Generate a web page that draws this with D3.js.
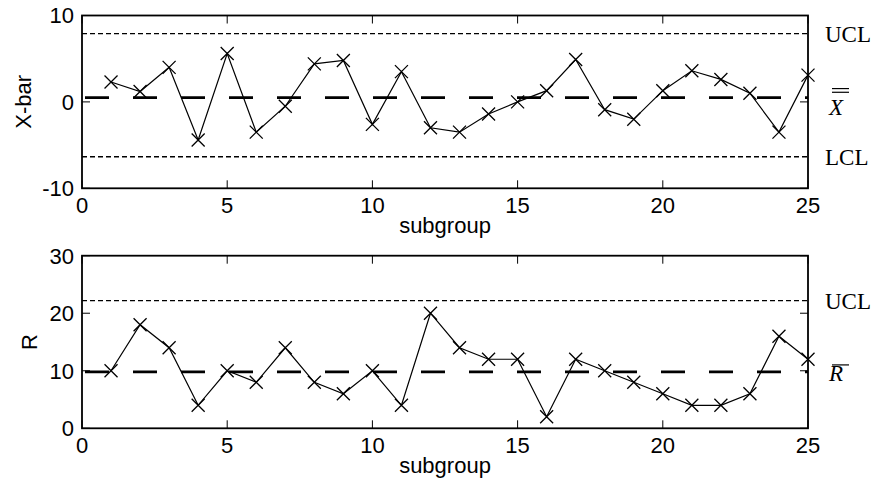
<!DOCTYPE html>
<html>
<head>
<meta charset="utf-8">
<script src="https://cdn.jsdelivr.net/npm/d3@7"></script>
<style>
  body { margin: 0; background: #fff; }
  svg { display: block; }
</style>
</head>
<body>
<div id="chart"></div>
<script>
// subgroup numbers 1..25
const subgroups = [1, 2, 3, 4, 5, 6, 7, 8, 9, 10, 11, 12, 13, 14, 15, 16, 17, 18, 19, 20, 21, 22, 23, 24, 25];

// subgroup means (X-bar chart)
const xbarValues = [2.3, 1.2, 4.0, -4.4, 5.6, -3.5, -0.5, 4.4, 4.8, -2.6, 3.5, -3.0, -3.5, -1.4, 0.0, 1.3, 4.9, -0.9, -2.0, 1.3, 3.6, 2.6, 1.0, -3.5, 3.1];
// subgroup ranges (R chart)
const rValues = [10, 18, 14, 4, 10, 8, 14, 8, 6, 10, 4, 20, 14, 12, 12, 2, 12, 10, 8, 6, 4, 4, 6, 16, 12];

// control limits
const xbarLimits = { ucl: 7.9, cl: 0.5, lcl: -6.35 };
const rLimits = { ucl: 22.2, cl: 9.8 };

const xTicks = [0, 5, 10, 15, 20, 25];
const xbarTicks = [-10, 0, 10];
const rTicks = [0, 10, 20, 30];

const W = 877, H = 484;
const svg = d3.select("#chart").append("svg")
    .attr("width", W)
    .attr("height", H);

const sansFont = "'Liberation Sans', Arial, sans-serif";
const serifFont = "'Liberation Serif', 'Times New Roman', serif";

function drawPanel(opt) {
    const x = d3.scaleLinear().domain([0, 25]).range([82, 808]);
    const y = d3.scaleLinear().domain(opt.yDomain).range([opt.bottom, opt.top]);
    const g = svg.append("g");

    // x ticks inward, top and bottom
    xTicks.forEach(t => {
        g.append("line").attr("x1", x(t)).attr("x2", x(t))
            .attr("y1", opt.top).attr("y2", opt.top + 8)
            .attr("stroke", "#000").attr("stroke-width", 1);
        g.append("line").attr("x1", x(t)).attr("x2", x(t))
            .attr("y1", opt.bottom).attr("y2", opt.bottom - 8)
            .attr("stroke", "#000").attr("stroke-width", 1);
        g.append("text")
            .attr("x", x(t)).attr("y", opt.bottom + 25)
            .attr("text-anchor", "middle")
            .attr("font-family", sansFont).attr("font-size", 22)
            .text(t);
    });

    // y ticks inward, left and right
    opt.yTicks.forEach(t => {
        g.append("line").attr("x1", 82).attr("x2", 90)
            .attr("y1", y(t)).attr("y2", y(t))
            .attr("stroke", "#000").attr("stroke-width", 1);
        g.append("line").attr("x1", 808).attr("x2", 800)
            .attr("y1", y(t)).attr("y2", y(t))
            .attr("stroke", "#000").attr("stroke-width", 1);
        g.append("text")
            .attr("x", 74).attr("y", y(t))
            .attr("dy", "0.36em")
            .attr("text-anchor", "end")
            .attr("font-family", sansFont).attr("font-size", 22)
            .text(t);
    });

    // control limit lines
    opt.limits.forEach(l => {
        g.append("line")
            .attr("x1", 82).attr("x2", 808)
            .attr("y1", y(l.value)).attr("y2", y(l.value))
            .attr("stroke", "#000")
            .attr("stroke-width", l.center ? 2.6 : 1.3)
            .attr("stroke-dasharray", l.center ? "24,24" : "5,3")
            .attr("stroke-dashoffset", l.center ? 45 : 0);
    });

    // data line
    const line = d3.line()
        .x((d, i) => x(subgroups[i]))
        .y(d => y(d));
    g.append("path")
        .datum(opt.values)
        .attr("fill", "none")
        .attr("stroke", "#000")
        .attr("stroke-width", 1.2)
        .attr("d", line);

    // x markers
    const s = 6.5;
    g.selectAll(".mk")
        .data(opt.values)
        .enter()
        .append("path")
        .attr("d", (d, i) => {
            const cx = x(subgroups[i]), cy = y(d);
            return `M${cx - s},${cy - s}L${cx + s},${cy + s}M${cx - s},${cy + s}L${cx + s},${cy - s}`;
        })
        .attr("stroke", "#000")
        .attr("stroke-width", 1.3)
        .attr("fill", "none");

    // frame
    g.append("rect")
        .attr("x", 82).attr("y", opt.top)
        .attr("width", 808 - 82).attr("height", opt.bottom - opt.top)
        .attr("fill", "none")
        .attr("stroke", "#000")
        .attr("stroke-width", 1.8);

    // axis labels
    g.append("text")
        .attr("x", 445).attr("y", opt.bottom + 45)
        .attr("text-anchor", "middle")
        .attr("font-family", sansFont).attr("font-size", 22)
        .text("subgroup");
    g.append("text")
        .attr("transform", `translate(${opt.ylabX},${(opt.top + opt.bottom) / 2}) rotate(-90)`)
        .attr("text-anchor", "middle")
        .attr("font-family", sansFont).attr("font-size", 22)
        .text(opt.ylabel);

    // limit labels on the right
    opt.limits.forEach(l => {
        const ty = y(l.value);
        if (l.label === "UCL" || l.label === "LCL") {
            g.append("text")
                .attr("x", 825).attr("y", ty + 8)
                .attr("font-family", serifFont).attr("font-size", 23)
                .text(l.label);
        } else {
            g.append("text")
                .attr("x", 829).attr("y", ty + l.dy)
                .attr("font-family", serifFont).attr("font-size", 23)
                .attr("font-style", "italic")
                .text(l.label);
            for (let k = 0; k < l.bars; k++) {
                g.append("line")
                    .attr("x1", 832).attr("x2", 849)
                    .attr("y1", ty + l.barY + k * 3.7).attr("y2", ty + l.barY + k * 3.7)
                    .attr("stroke", "#000").attr("stroke-width", 1.2);
            }
        }
    });
}

drawPanel({
    top: 15.5, bottom: 188.3,
    yDomain: [-10, 10],
    yTicks: xbarTicks,
    values: xbarValues,
    ylabel: "X-bar", ylabX: 31,
    limits: [
        { value: xbarLimits.ucl, label: "UCL" },
        { value: xbarLimits.cl, label: "X", center: true, bars: 2, dy: 17, barY: -9 },
        { value: xbarLimits.lcl, label: "LCL" }
    ]
});

drawPanel({
    top: 255.7, bottom: 428.3,
    yDomain: [0, 30],
    yTicks: rTicks,
    values: rValues,
    ylabel: "R", ylabX: 37,
    limits: [
        { value: rLimits.ucl, label: "UCL" },
        { value: rLimits.cl, label: "R", center: true, bars: 1, dy: 9, barY: -7 }
    ]
});
</script>
</body>
</html>
